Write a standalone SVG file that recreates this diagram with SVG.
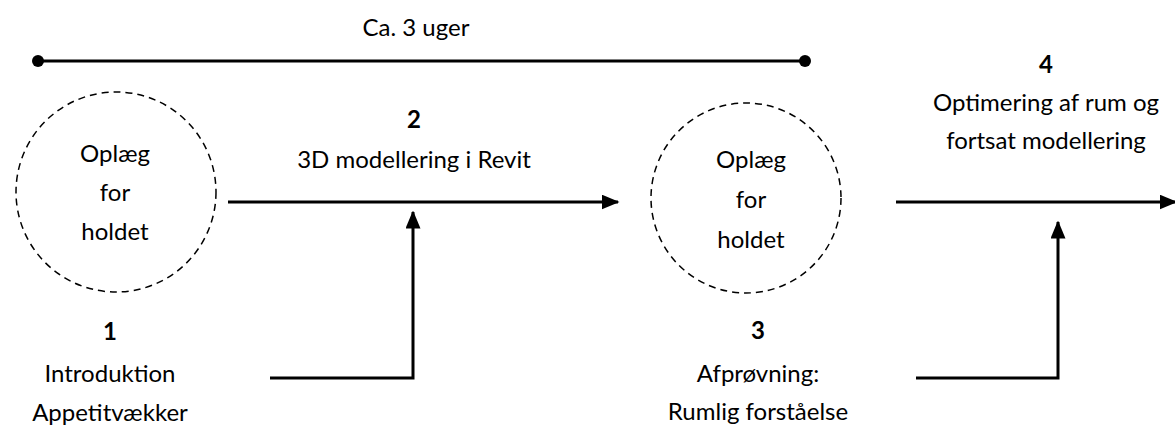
<svg xmlns="http://www.w3.org/2000/svg" width="1175" height="425" viewBox="0 0 1175 425">
<style>
text{font-family:Lato,"Liberation Sans",sans-serif;font-size:24px;fill:#000;text-anchor:middle}
.b{font-weight:bold}
.c{fill:none;stroke:#000;stroke-width:1.5;stroke-dasharray:7 5}
.l{fill:none;stroke:#000;stroke-width:3}
</style>
<defs>
<marker id="ah" viewBox="0 0 12 10" refX="11" refY="5" markerWidth="6" markerHeight="5" markerUnits="strokeWidth" orient="auto">
<path d="M0,0 L12,5 L0,10 Z" fill="#000"/>
</marker>
</defs>
<rect width="1175" height="425" fill="#fff"/>
<g id="timeline">
<line class="l" x1="38" y1="61" x2="805" y2="61"/>
<circle cx="38" cy="61" r="6" fill="#000"/>
<circle cx="805" cy="61" r="6" fill="#000"/>
<text x="416" y="36">Ca. 3 uger</text>
</g>
<g id="node-oplaeg1">
<circle class="c" cx="116" cy="192" r="100"/>
<text x="115" y="162">Oplæg</text>
<text x="115" y="201">for</text>
<text x="115" y="240">holdet</text>
</g>
<g id="node-1">
<text class="b" x="110" y="340">1</text>
<text x="110" y="382">Introduktion</text>
<text x="110" y="421">Appetitvækker</text>
</g>
<g id="node-2">
<text class="b" x="414" y="128">2</text>
<text x="414" y="168">3D modellering i Revit</text>
</g>
<g id="node-oplaeg2">
<circle class="c" cx="746" cy="198" r="95"/>
<text x="751" y="168">Oplæg</text>
<text x="751" y="208">for</text>
<text x="751" y="248">holdet</text>
</g>
<g id="node-3">
<text class="b" x="758" y="339">3</text>
<text x="758" y="382">Afprøvning:</text>
<text x="758" y="420">Rumlig forståelse</text>
</g>
<g id="node-4">
<text class="b" x="1046" y="73">4</text>
<text x="1046" y="111">Optimering af rum og</text>
<text x="1046" y="149">fortsat modellering</text>
</g>
<g id="connectors">
<line class="l" x1="228" y1="202" x2="618" y2="202" marker-end="url(#ah)"/>
<polyline class="l" points="270,378 413,378 413,212" marker-end="url(#ah)"/>
<line class="l" x1="896" y1="202" x2="1176" y2="202" marker-end="url(#ah)"/>
<polyline class="l" points="916,378 1058,378 1058,222" marker-end="url(#ah)"/>
</g>
</svg>
